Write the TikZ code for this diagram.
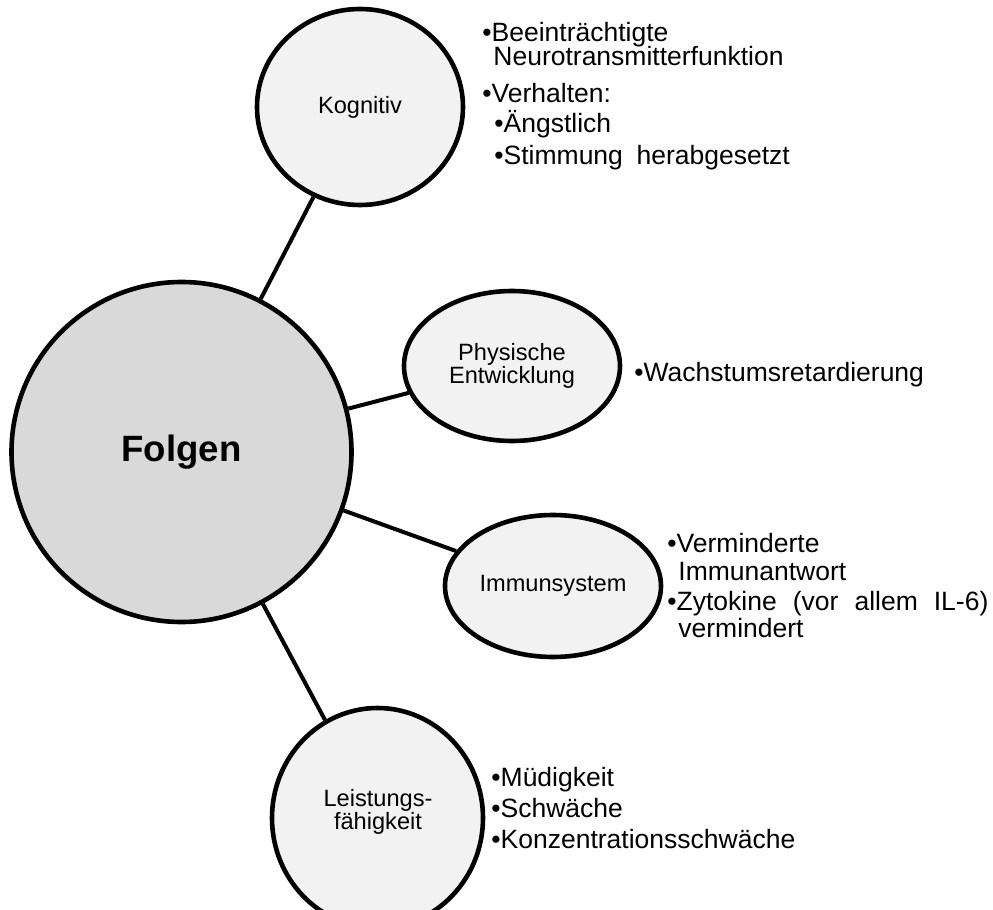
\documentclass[tikz,border=0pt]{standalone}
\usepackage{fontspec}
\setmainfont{Liberation Sans}
\usetikzlibrary{shapes.geometric}
\definecolor{bigfill}{HTML}{D9D9D9}
\definecolor{smallfill}{HTML}{F2F2F2}
\begin{document}
\begin{tikzpicture}[x=0.5pt,y=-0.5pt,
  hub/.style={ellipse, draw=black, line width=2.3pt, fill=bigfill, inner sep=0pt,
    minimum width=170pt, minimum height=170pt,
    font=\fontsize{18.3}{22}\selectfont\bfseries},
  topic/.style={ellipse, draw=black, line width=2.3pt, fill=smallfill, inner sep=0pt,
    align=center, font=\fontsize{11.8}{11.5}\selectfont},
  toplabel/.style={inner sep=0pt, align=center, font=\fontsize{11.8}{11.5}\selectfont},
  item/.style={anchor=base west, inner sep=0pt, font=\fontsize{13.25}{14}\selectfont},
  link/.style={line width=2pt, draw=black}]
\useasboundingbox (0,0) rectangle (993,910);

% nodes
\node[hub] (hub) at (181.5,452) {Folgen};
\node[topic, minimum width=103pt, minimum height=98pt] (kog) at (360,107) {Kognitiv};
\node[topic, minimum width=108pt, minimum height=75pt] (phys) at (512,366) {Physische\\Entwicklung};
\node[topic, minimum width=108pt, minimum height=71pt] (imm) at (553,586) {Immunsystem};
\node[topic, minimum width=105.5pt, minimum height=110pt] (leis) at (377.5,818) {};
\node[toplabel] (leislab) at (378,812) {Leistungs-\\fähigkeit};

% connectors
\draw[link] (hub) -- (kog);
\draw[link] (hub) -- (phys);
\draw[link] (hub) -- (imm);
\draw[link] (hub) -- (leis);

% Kognitiv items
\node[item] (k1) at (482,41) {•Beeinträchtigte};
\node[item] (k2) at (493,65) {Neurotransmitterfunktion};
\node[item] (k3) at (482,102) {•Verhalten:};
\node[item] (k4) at (494,133) {•Ängstlich};
\node[item] (k5) at (494,164) {\hbox to 147.75pt{•Stimmung\hfill herabgesetzt}};

% Physische Entwicklung items
\node[item] (p1) at (634,381) {•Wachstumsretardierung};

% Immunsystem items
\node[item] (i1) at (667,552) {•Verminderte};
\node[item] (i2) at (678,580) {Immunantwort};
\node[item] (i3) at (667,610) {\hbox to 160.5pt{•Zytokine\hfill(vor\hfill allem\hfill IL-6)}};
\node[item] (i4) at (678,637) {vermindert};

% Leistungsfaehigkeit items
\node[item] (l1) at (491,786) {•Müdigkeit};
\node[item] (l2) at (491,817) {•Schwäche};
\node[item] (l3) at (491,848) {•Konzentrationsschwäche};
\end{tikzpicture}
\end{document}
